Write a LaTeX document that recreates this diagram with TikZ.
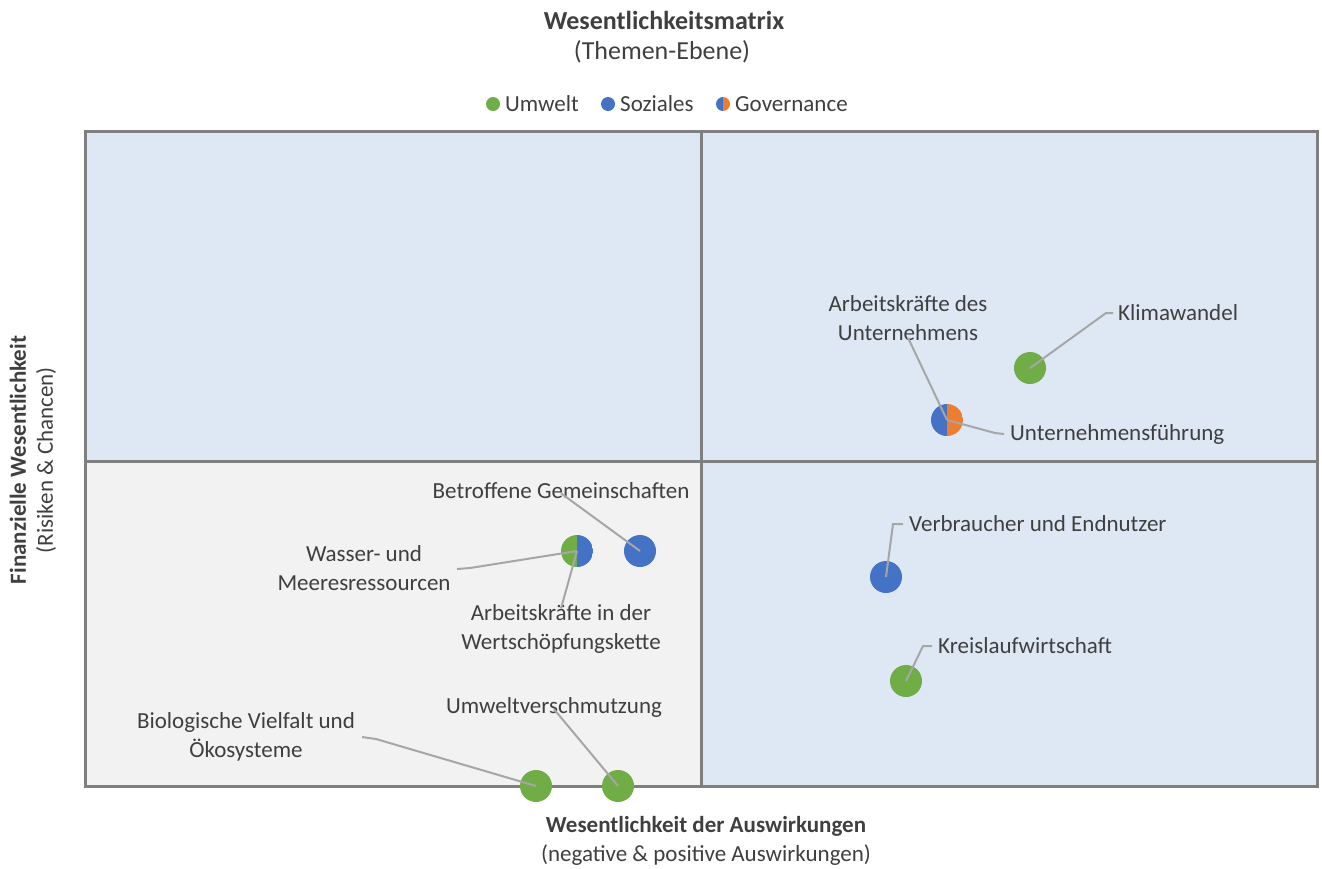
\documentclass[tikz,border=0pt]{standalone}
\usepackage{fontspec}
\setmainfont{Carlito}
\definecolor{ugreen}{HTML}{70AD47}
\definecolor{sblue}{HTML}{4472C4}
\definecolor{gorange}{HTML}{ED7D31}
\definecolor{qblue}{HTML}{DEE8F5}
\definecolor{qgray}{HTML}{F2F2F2}
\definecolor{framec}{HTML}{7F7F7F}
\definecolor{leadc}{HTML}{A6A6A6}
\definecolor{txt}{HTML}{3F3F3F}
\tikzset{
  bubble/.style={circle, minimum size=32pt, inner sep=0pt},
  ldot/.style={circle, minimum size=14pt, inner sep=0pt},
  halfpie/.style 2 args={path picture={
     \fill[#1] (path picture bounding box.north) rectangle (path picture bounding box.south west);
     \fill[#2] (path picture bounding box.north) rectangle (path picture bounding box.south east);}},
  lbl/.style={text=txt, inner sep=0pt, align=center},
  titlefont/.style={font=\fontsize{26}{32}\selectfont},
  leader/.style={draw=leadc, line width=2pt},
  gridline/.style={draw=framec, line width=3pt},
}
\begin{document}
\begin{tikzpicture}[x=1pt,y=-1pt,font=\fontsize{23}{29}\selectfont]
\useasboundingbox (0,0) rectangle (1322,868);
% quadrants
\fill[qblue] (85,131) rectangle (701,461);
\fill[qblue] (701,131) rectangle (1317,461);
\fill[qgray] (85,461) rectangle (701,786);
\fill[qblue] (701,461) rectangle (1317,786);
\draw[gridline] (85,131) rectangle (1317,786);
\draw[gridline] (701,131) -- (701,786);
\draw[gridline] (85,461) -- (1317,461);
% titles
\node[lbl, font=\fontsize{26}{32}\selectfont\bfseries] (title) at (664,20) {Wesentlichkeitsmatrix};
\node[lbl, titlefont] (subtitle) at (662,52) {(Themen-Ebene)};
% legend
\node[ldot, fill=ugreen] (lg1) at (493,104) {};
\node[lbl, anchor=west] (lt1) at (505,104) {Umwelt};
\node[ldot, fill=sblue] (lg2) at (608,104) {};
\node[lbl, anchor=west] (lt2) at (620,104) {Soziales};
\node[ldot, halfpie={sblue}{gorange}] (lg3) at (723,104) {};
\node[lbl, anchor=west] (lt3) at (735,104) {Governance};
% axis labels
\node[lbl, font=\fontsize{23}{29}\selectfont\bfseries] (xax) at (706,826) {Wesentlichkeit der Auswirkungen};
\node[lbl] (xsub) at (706,855) {(negative \& positive Auswirkungen)};
\node[lbl, rotate=90, font=\fontsize{23}{29}\selectfont\bfseries] (yax) at (18,460) {Finanzielle Wesentlichkeit};
\node[lbl, rotate=90] (ysub) at (46,460) {(Risiken \& Chancen)};
% bubbles
\node[bubble, fill=ugreen] (klima) at (1030,368) {};
\node[bubble, halfpie={sblue}{gorange}] (unt) at (947,420) {};
\node[bubble, fill=sblue] (verb) at (886,577) {};
\node[bubble, fill=ugreen] (kreis) at (906,681) {};
\node[bubble, fill=sblue] (betr) at (640,551) {};
\node[bubble, halfpie={ugreen}{sblue}] (wass) at (577,551) {};
\node[bubble, fill=ugreen] (bio) at (536,786) {};
\node[bubble, fill=ugreen] (umv) at (618,786) {};
% labels
\node[lbl, anchor=west] (lklima) at (1118,313) {Klimawandel};
\node[lbl] (larb) at (908,318) {Arbeitskräfte des\\Unternehmens};
\node[lbl, anchor=west] (lunt) at (1010,434) {Unternehmensführung};
\node[lbl, anchor=west] (lverb) at (909,524) {Verbraucher und Endnutzer};
\node[lbl, anchor=west] (lkreis) at (938,646) {Kreislaufwirtschaft};
\node[lbl] (lbetr) at (561,491) {Betroffene Gemeinschaften};
\node[lbl] (lwass) at (364,568) {Wasser- und\\Meeresressourcen};
\node[lbl] (lwert) at (561,629) {Arbeitskräfte in der\\Wertschöpfungskette};
\node[lbl] (lbio) at (246,737) {Biologische Vielfalt und\\Ökosysteme};
\node[lbl] (lumv) at (554,707) {Umweltverschmutzung};
% leaders
\draw[leader] (klima.center) -- (1106,313) -- ([xshift=-5pt]lklima.west);
\draw[leader] (unt.center) -- (995,433) -- ([xshift=-6pt]lunt.west);
\draw[leader] (unt.center) -- ([yshift=3pt]larb.south);
\draw[leader] (verb.center) -- (893,524) -- ([xshift=-6pt]lverb.west);
\draw[leader] (kreis.center) -- (923,646) -- ([xshift=-6pt]lkreis.west);
\draw[leader] (betr.center) -- ([yshift=6pt]lbetr.south);
\draw[leader] (wass.center) -- (470,568) -- (457,569);
\draw[leader] (wass.center) -- ([yshift=-4pt]lwert.north);
\draw[leader] (bio.center) -- (376,739) -- (362,737);
\draw[leader] (umv.center) -- ([yshift=8pt]lumv.south);
\end{tikzpicture}
\end{document}
